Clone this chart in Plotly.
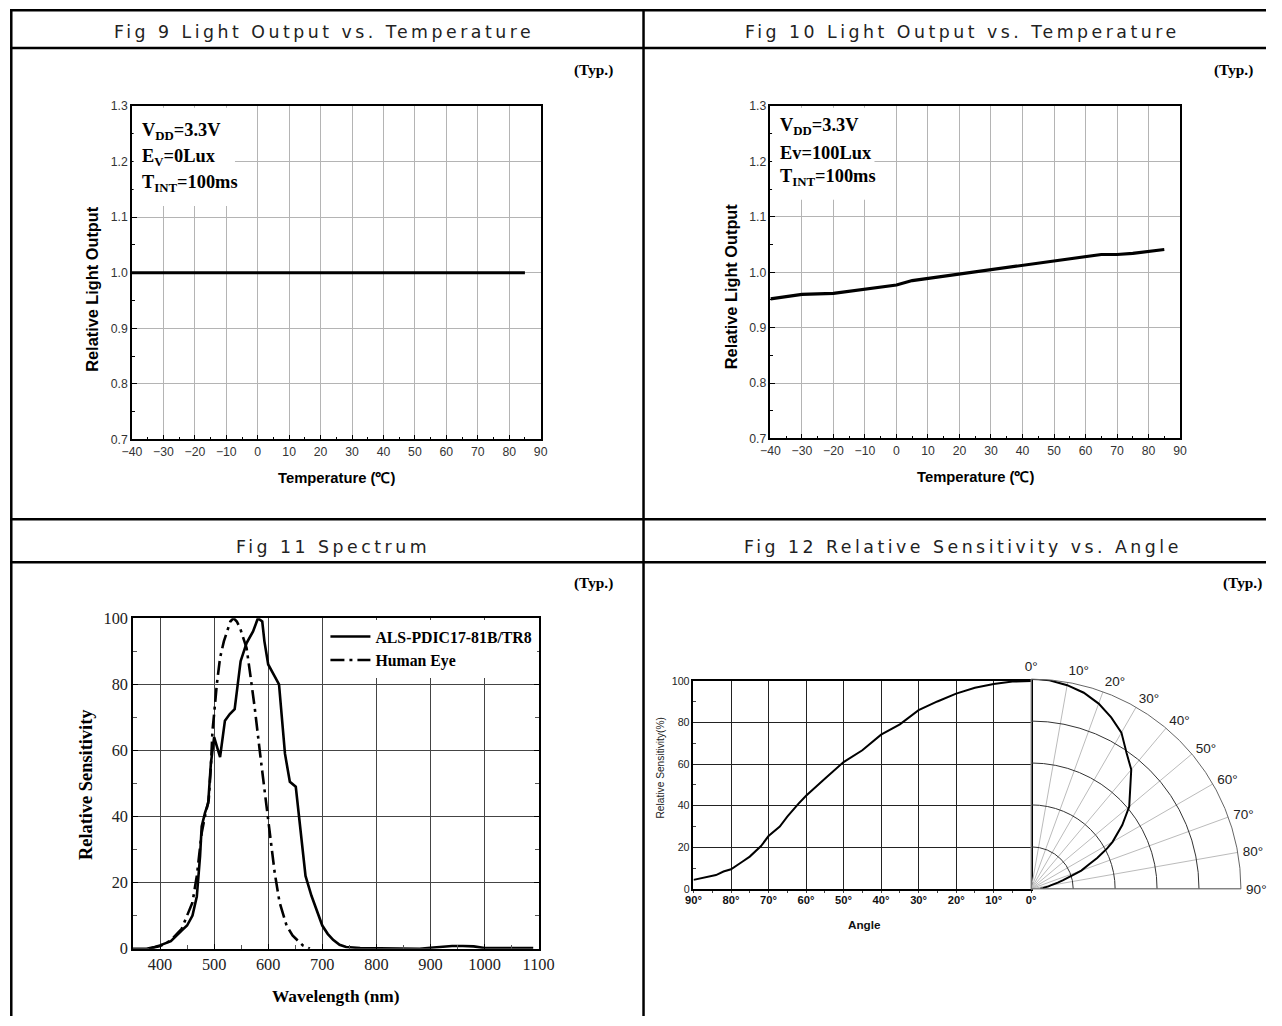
import plotly.graph_objects as go

# figure fills the page (body margin removed); positions below are given in the
# reference picture's pixels and converted with the photographing offset/scale
W, H = 1282, 1026
SX, OX = 0.9806, 9.9
SY, OY = 0.983, 7.85
FS = 1.02  # font scale
def pgx(x): return (x - OX) / SX
def pgy(y): return (y - OY) / SY
def px(x): return pgx(x) / W
def py(y): return 1 - pgy(y) / H

# ---------------- data ----------------
# Fig 9
temp9 = [-40, -30, -20, -10, 0, 10, 20, 30, 40, 50, 60, 70, 80, 85]
out9 = [1.0, 1.0, 1.0, 1.0, 1.0, 1.0, 1.0, 1.0, 1.0, 1.0, 1.0, 1.0, 1.0, 1.0]
# Fig 10
temp10 = [-40, -30, -20, -10, 0, 5, 10, 20, 30, 40, 50, 60, 65, 70, 75, 85]
out10 = [0.952, 0.960, 0.962, 0.970, 0.977, 0.985, 0.989, 0.997, 1.005, 1.012,
         1.020, 1.028, 1.032, 1.032, 1.034, 1.041]
temp_ticks = list(range(-40, 91, 10))
# Fig 11
wl_als = [350, 375, 390, 400, 420, 430, 440, 450, 460, 468, 471, 474, 477, 483, 489, 494,
          500, 504, 511, 520, 529, 538, 549, 560, 572, 581, 589, 593, 600, 610, 620, 631,
          640, 651, 658, 669, 680, 689, 700, 710, 720, 732, 744, 770, 800, 850, 880, 900,
          920, 940, 960, 980, 1000, 1050, 1090]
sens_als = [0, 0, 0.5, 1.0, 2.3, 4, 5.5, 7, 10, 15.8, 20.8, 28, 37, 41, 44, 56,
            64, 62, 58, 69, 71, 72.5, 87, 92.5, 96, 100, 99, 93, 86, 83, 80, 59,
            50.5, 49, 38, 22, 16, 12, 7, 4.5, 2.7, 1.2, 0.5, 0.2, 0.2, 0, 0, 0.3,
            0.6, 0.8, 0.8, 0.7, 0.2, 0.2, 0.2]
wl_eye = [380, 400, 420, 440, 450, 460, 468, 477, 483, 490, 494, 497, 500, 505, 511, 518,
          524, 530, 536, 542, 548, 554, 560, 566, 575, 585, 594, 603, 612, 621, 634, 645,
          652, 664, 677]
sens_eye = [0, 0.8, 2.5, 6, 10, 14, 22, 35, 40, 45, 55, 66, 71, 80, 88, 93,
            96, 99, 100, 99, 97, 94, 91, 84, 73, 59, 47, 35, 23, 14, 7, 4,
            3, 1, 0]
series_names = ["ALS-PDIC17-81B/TR8", "Human Eye"]
# Fig 12
angle = [90, 87, 84, 82, 80, 77, 75, 72, 70, 67, 65, 62, 60, 55, 50, 45, 40, 35, 30,
         25, 20, 15, 10, 5, 2, 0]
rel_sens = [4.3, 5.6, 6.6, 8.3, 9.4, 13, 15.5, 20.6, 25.4, 30, 34.7, 41, 44.8, 53, 61,
            66.7, 74.2, 79.2, 86, 90.2, 94, 96.8, 98.6, 99.8, 100, 100]
angle_ticks = list(range(0, 91, 10))
angle_labels = [f"{a}°" for a in angle_ticks]

titles = ["Fig 9 Light Output vs. Temperature", "Fig 10 Light Output vs. Temperature",
          "Fig 11 Spectrum", "Fig 12 Relative Sensitivity vs. Angle"]

# ---------------- figure ----------------
fig = go.Figure()
fig.add_trace(go.Scatter(x=temp9, y=out9, mode="lines", line=dict(color="black", width=3.2),
                         xaxis="x", yaxis="y", showlegend=False))
fig.add_trace(go.Scatter(x=temp10, y=out10, mode="lines", line=dict(color="black", width=3.2),
                         xaxis="x2", yaxis="y2", showlegend=False))
fig.add_trace(go.Scatter(x=wl_als, y=sens_als, mode="lines", name=series_names[0],
                         line=dict(color="black", width=2.6), xaxis="x3", yaxis="y3"))
fig.add_trace(go.Scatter(x=wl_eye, y=sens_eye, mode="lines", name=series_names[1],
                         line=dict(color="black", width=2.6, dash="14px,5px,3px,5px"),
                         xaxis="x3", yaxis="y3"))
fig.add_trace(go.Scatter(x=angle, y=rel_sens, mode="lines", line=dict(color="black", width=2),
                         xaxis="x4", yaxis="y4", showlegend=False))
fig.add_trace(go.Scatterpolar(r=rel_sens, theta=angle, mode="lines",
                              line=dict(color="black", width=2), showlegend=False))

sans = "Liberation Sans"
serif = "Liberation Serif"

def temp_x(dom, anchor):
    return dict(domain=dom, anchor=anchor, range=[-40, 90], tickvals=temp_ticks,
                showgrid=True, gridcolor="#b4b4b4", gridwidth=1, zeroline=False,
                showline=True, linecolor="black", linewidth=1.5, mirror=True,
                ticks="inside", ticklen=5, tickcolor="black",
                minor=dict(dtick=5, tick0=-40, ticks="inside", ticklen=3, tickcolor="black", showgrid=False),
                tickfont=dict(family=sans, size=12 * FS, color="#333"))

def temp_y(dom, anchor):
    return dict(domain=dom, anchor=anchor, range=[0.7, 1.3], dtick=0.1, tick0=0.7, tickformat=".1f",
                showgrid=True, gridcolor="#b4b4b4", gridwidth=1, zeroline=False,
                showline=True, linecolor="black", linewidth=1.5, mirror=True,
                ticks="inside", ticklen=5, tickcolor="black",
                minor=dict(dtick=0.05, tick0=0.7, ticks="inside", ticklen=3, tickcolor="black", showgrid=False),
                tickfont=dict(family=sans, size=12 * FS, color="#333"))

fig.update_layout(
    width=W, height=H, margin=dict(l=0, r=0, t=0, b=0),
    paper_bgcolor="white", plot_bgcolor="white",
    xaxis=temp_x([px(132), px(541)], "y"),
    yaxis=temp_y([py(439), py(105)], "x"),
    xaxis2=temp_x([px(771), px(1181)], "y2"),
    yaxis2=temp_y([py(438), py(105)], "x2"),
    xaxis3=dict(domain=[px(133), px(539)], anchor="y3", range=[350, 1100], dtick=100, tick0=400,
                showgrid=True, gridcolor="#444", gridwidth=1, zeroline=False,
                showline=True, linecolor="black", linewidth=1.5, mirror=True,
                ticks="inside", ticklen=5, tickcolor="black",
                minor=dict(dtick=50, tick0=350, ticks="inside", ticklen=4, tickcolor="#555", showgrid=False),
                tickfont=dict(family=serif, size=16 * FS, color="#222")),
    yaxis3=dict(domain=[py(949), py(618)], anchor="x3", range=[0, 100], dtick=20,
                showgrid=True, gridcolor="#444", gridwidth=1, zeroline=False,
                showline=True, linecolor="black", linewidth=1.5, mirror="ticks",
                ticks="inside", ticklen=5, tickcolor="black",
                minor=dict(dtick=10, ticks="inside", ticklen=4, tickcolor="#555", showgrid=False),
                tickfont=dict(family=serif, size=16 * FS, color="#222")),
    xaxis4=dict(domain=[px(694), px(1032)], anchor="y4", range=[90, 0], tickvals=angle_ticks,
                ticktext=angle_labels, showgrid=True, gridcolor="#222", gridwidth=1, zeroline=False,
                showline=True, linecolor="black", linewidth=1.5, mirror=True,
                ticks="", minor=dict(dtick=5, ticks="outside", ticklen=2, tickcolor="#444", showgrid=False),
                tickfont=dict(family=sans, size=11 * FS, color="#111", weight="bold")),
    yaxis4=dict(domain=[py(889), py(681)], anchor="x4", range=[0, 100], dtick=20,
                showgrid=True, gridcolor="#222", gridwidth=1, zeroline=False,
                showline=True, linecolor="black", linewidth=1.5, mirror=True,
                ticks="", minor=dict(dtick=10, ticks="inside", ticklen=3, tickcolor="#444", showgrid=False),
                tickfont=dict(family=sans, size=10.5 * FS, color="#222")),
    polar=dict(domain=dict(x=[px(1032), px(1242)], y=[py(889), py(679)]), sector=[0, 90],
               bgcolor="rgba(0,0,0,0)",
               angularaxis=dict(rotation=90, direction="clockwise", tickvals=angle_ticks,
                                ticktext=angle_labels, showgrid=True, gridcolor="#bbbbbb",
                                gridwidth=1, showline=True, linecolor="#666", linewidth=1,
                                ticks="outside", ticklen=2, tickcolor="rgba(0,0,0,0)",
                                tickfont=dict(family=sans, size=13.5, color="#222")),
               radialaxis=dict(range=[0, 100], tickvals=[20, 40, 60, 80, 100], showticklabels=False,
                               ticks="", showline=False, gridcolor="#333", gridwidth=1)),
    legend=dict(x=px(537.8), xanchor="right", y=py(619.5), yanchor="top", bgcolor="white",
                borderwidth=0, font=dict(family=serif, size=15.5 * FS, color="black", weight="bold"),
                itemwidth=40, tracegroupgap=0),
)

# white boxes behind condition text (they sit clear of the curves)
fig.add_shape(type="rect", xref="x domain", yref="y domain", x0=0.004, x1=0.252, y0=0.70, y1=0.995,
              fillcolor="white", line=dict(width=0), layer="above")
fig.add_shape(type="rect", xref="x2 domain", yref="y2 domain", x0=0.004, x1=0.254, y0=0.718, y1=0.995,
              fillcolor="white", line=dict(width=0), layer="above")

# table borders (outer top/left border kept just inside the page)
bl = dict(color="black", width=2.5)
top_y = 1 - 1.3 / H
left_x = 1.3 / W
for yy in [top_y, py(47), py(519), py(562)]:
    fig.add_shape(type="line", xref="paper", yref="paper", x0=0, x1=1, y0=yy, y1=yy, line=bl)
fig.add_shape(type="line", xref="paper", yref="paper", x0=left_x, x1=left_x, y0=0, y1=top_y, line=bl)
fig.add_shape(type="line", xref="paper", yref="paper", x0=px(644), x1=px(644), y0=0, y1=top_y, line=bl)

def ann(text, x, y, size, family=sans, bold=False, color="black", xanchor="center", angle=0):
    fig.add_annotation(text=text, x=px(x), y=py(y), xref="paper", yref="paper", showarrow=False,
                       xanchor=xanchor, yanchor="middle", textangle=angle,
                       font=dict(family=family, size=size * FS, color=color,
                                 weight="bold" if bold else "normal"))

# cell titles
tstyle = '<span style="letter-spacing:3.5px">{}</span>'
ann(tstyle.format(titles[0]), 324, 31, 17, family="DejaVu Sans", color="#222")
ann(tstyle.format(titles[1]), 963, 31, 17, family="DejaVu Sans", color="#222")
ann(tstyle.format(titles[2]), 333, 547, 17, family="DejaVu Sans", color="#222")
ann(tstyle.format(titles[3]), 964, 547, 17, family="DejaVu Sans", color="#222")

# (Typ.)
ann("(Typ.)", 594, 69, 15, family=serif, bold=True)
ann("(Typ.)", 1234, 69, 15, family=serif, bold=True)
ann("(Typ.)", 594, 583, 15, family=serif, bold=True)
ann("(Typ.)", 1244, 583, 15, family=serif, bold=True)

# condition texts
ann("V<sub>DD</sub>=3.3V", 140, 131, 18, family=serif, bold=True, xanchor="left")
ann("E<sub>V</sub>=0Lux", 140, 157, 18, family=serif, bold=True, xanchor="left")
ann("T<sub>INT</sub>=100ms", 140, 183, 18, family=serif, bold=True, xanchor="left")
ann("V<sub>DD</sub>=3.3V", 779, 126, 18, family=serif, bold=True, xanchor="left")
ann("Ev=100Lux", 779, 152, 18, family=serif, bold=True, xanchor="left")
ann("T<sub>INT</sub>=100ms", 779, 177, 18, family=serif, bold=True, xanchor="left")

# axis titles
ann("Temperature (℃)", 337, 478, 14.5, bold=True)
ann("Relative Light Output", 92, 288, 16, bold=True, angle=-90)
ann("Temperature (℃)", 976, 477, 14.5, bold=True)
ann("Relative Light Output", 731, 285, 16, bold=True, angle=-90)
ann("Wavelength (nm)", 336, 997, 17, family=serif, bold=True)
ann("Relative Sensitivity", 86, 785, 18, family=serif, bold=True, angle=-90)
ann("Angle", 865, 925, 11.5, bold=True, color="#111")
ann("Relative Sensitivity(%)", 661, 768, 10, color="#222", angle=-90)

fig.write_html("out.html", config={"displayModeBar": False},
               post_script="document.body.style.margin='0';document.body.style.overflow='hidden';")
